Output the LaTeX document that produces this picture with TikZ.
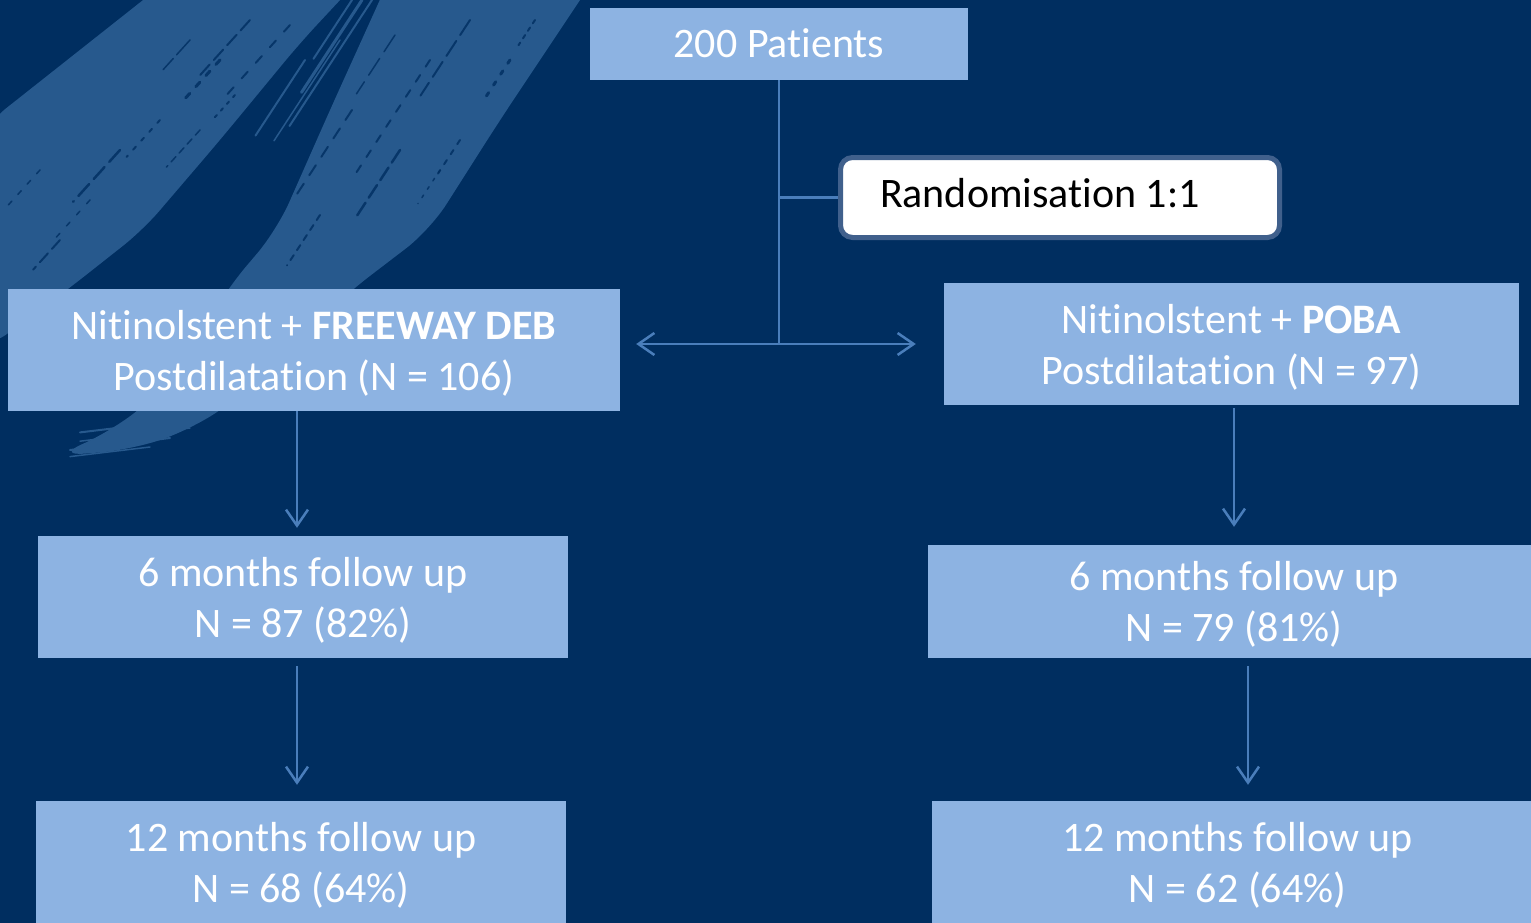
\documentclass[tikz,border=0pt]{standalone}
\usepackage{fontspec}
\setmainfont{Carlito}[Ligatures=NoCommon, RawFeature=-calt]
\usetikzlibrary{arrows.meta}
\definecolor{bg}{RGB}{0,46,96}
\definecolor{brush}{RGB}{39,89,141}
\definecolor{boxc}{RGB}{141,179,226}
\definecolor{linec}{RGB}{74,126,187}
\definecolor{randb}{RGB}{64,96,140}
\newcommand{\topstr}[1]{\rule{0pt}{#1}}
\newcommand{\botstr}{\rule[-13pt]{0pt}{13pt}}
\begin{document}
\begin{tikzpicture}[x=1pt,y=-1pt,
  flowbox/.style={fill=boxc, text=white, inner sep=0pt, align=center, font=\fontsize{42}{51}\selectfont},
  randbox/.style={fill=white, draw=randb, line width=5pt, rounded corners=12pt, text=black,
    text width=360pt, align=flush left, inner xsep=39.5pt, inner ysep=0pt, minimum height=80pt,
    font=\fontsize{42}{51}\selectfont},
  conn/.style={draw=linec, line width=2.5pt},
  arr/.style={conn, -{Straight Barb[length=16pt,width=22pt]}},
  band/.style={fill=brush},
  streak/.style={draw=bg, line cap=round, opacity=0.8},
  lstreak/.style={draw=brush, line cap=round}]
\useasboundingbox (0,0) rectangle (1531,923);
\clip (0,0) rectangle (1531,923);
\fill[bg] (0,0) rectangle (1531,923);
% brush strokes
\path[band, rounded corners=25pt] (219,-60) -- (396,-60) -- (300,43) -- (220,140) -- (143,230) -- (67,290) -- (-15,350) -- (-15,125) -- cycle;
\path[band, rounded corners=30pt] (407,-60) -- (620,-60) -- (500,120) -- (430,230) -- (345,295) -- (250,390) -- (190,430) -- (130,450) -- (55,456) -- (110,432) -- (170,385) -- (227,289) -- (277,230) -- (330,110) -- cycle;
% light wisps between the strokes and at the tail
\foreach \x/\y/\l/\w in {362/0/110/3, 372/0/150/2, 352/0/70/2, 305/60/90/2, 340/40/120/1.5}
  \draw[lstreak, line width=\w pt] (\x,\y) -- ++({-0.55*\l},{0.84*\l});
\foreach \x/\y/\l/\w in {200/418/120/2, 190/428/110/1.5, 170/438/100/2, 150/447/80/1.5}
  \draw[lstreak, line width=\w pt] (\x,\y) -- ++({-\l},{0.12*\l});
% dark streaks inside strokes
\foreach \x/\y/\l/\w/\a/\b in {250/20/80/2/14/6, 220/60/60/3/6/9, 190/40/40/1.5/20/5, 290/25/100/2/9/12, 160/120/50/2/4/8, 120/150/70/2.5/16/7, 90/200/60/1.5/5/10, 60/240/40/2/12/6, 200/130/50/1.5/7/5, 235/95/30/2/3/6, 40/170/50/1.5/5/9}
  \draw[streak, line width=\w pt, dash pattern=on \a pt off \b pt] (\x,\y) -- ++({-0.67*\l},{0.74*\l});
\foreach \x/\y/\l/\w/\a/\b in {470/20/90/2/18/7, 430/60/140/2/8/10, 510/60/50/3/4/9, 400/150/80/2.5/15/6, 460/140/40/2/5/7, 352/110/100/2/12/10, 320/215/60/2/6/6, 395/35/70/1.5/20/8, 535/20/30/2/4/5, 440/170/40/1.5/3/7}
  \draw[streak, line width=\w pt, dash pattern=on \a pt off \b pt] (\x,\y) -- ++({-0.55*\l},{0.84*\l});
% nodes
\node[flowbox, minimum width=378pt, minimum height=72pt] (P) at (779,44) {\topstr{40pt}200 Patients\botstr};
\node[randbox] (R) at (1060,197.5) {\topstr{33pt}Randomisation 1:1\botstr};
\node[flowbox, minimum width=612pt, minimum height=122pt] (L1) at (314,350) {\topstr{42pt}Nitinolstent + \textbf{FREEWAY DEB}\\Postdilatation (N = 106)\botstr};
\node[flowbox, minimum width=575pt, minimum height=122pt] (R1) at (1231.5,344) {\topstr{42pt}Nitinolstent + \textbf{POBA}\\Postdilatation (N = 97)\botstr};
\node[flowbox, minimum width=530pt, minimum height=122pt] (L2) at (303,597) {\topstr{42pt}6 months follow up\\N = 87 (82\%)\botstr};
\node[flowbox, minimum width=612pt, minimum height=113pt] (R2) at (1234,601.5) {\topstr{42pt}6 months follow up\\N = 79 (81\%)\botstr};
\node[flowbox, minimum width=530pt, minimum height=122pt] (L3) at (301,862) {\topstr{42pt}12 months follow up\\N = 68 (64\%)\botstr};
\node[flowbox, minimum width=611pt, minimum height=122pt] (R3) at (1237.5,862) {\topstr{42pt}12 months follow up\\N = 62 (64\%)\botstr};
% connectors
\coordinate (J) at (779,344);
\draw[conn] (P.south) -- (J);
\draw[conn] (P.south |- R.west) -- (R.west);
\draw[arr, shorten >=16pt] (J) -- (L1.east |- J);
\draw[arr, shorten >=28pt] (J) -- (R1.west |- J);
\draw[arr, shorten >=8pt] ([xshift=-17pt]L1.south) -- ([xshift=-6pt]L2.north);
\draw[arr, shorten <=8pt, shorten >=16pt] ([xshift=-6pt]L2.south) -- ([xshift=-4pt]L3.north);
\draw[arr, shorten <=3pt, shorten >=18pt] ([xshift=2.5pt]R1.south) -- ([xshift=0pt]R2.north);
\draw[arr, shorten <=8pt, shorten >=16pt] ([xshift=14pt]R2.south) -- ([xshift=10.5pt]R3.north);
\end{tikzpicture}
\end{document}
